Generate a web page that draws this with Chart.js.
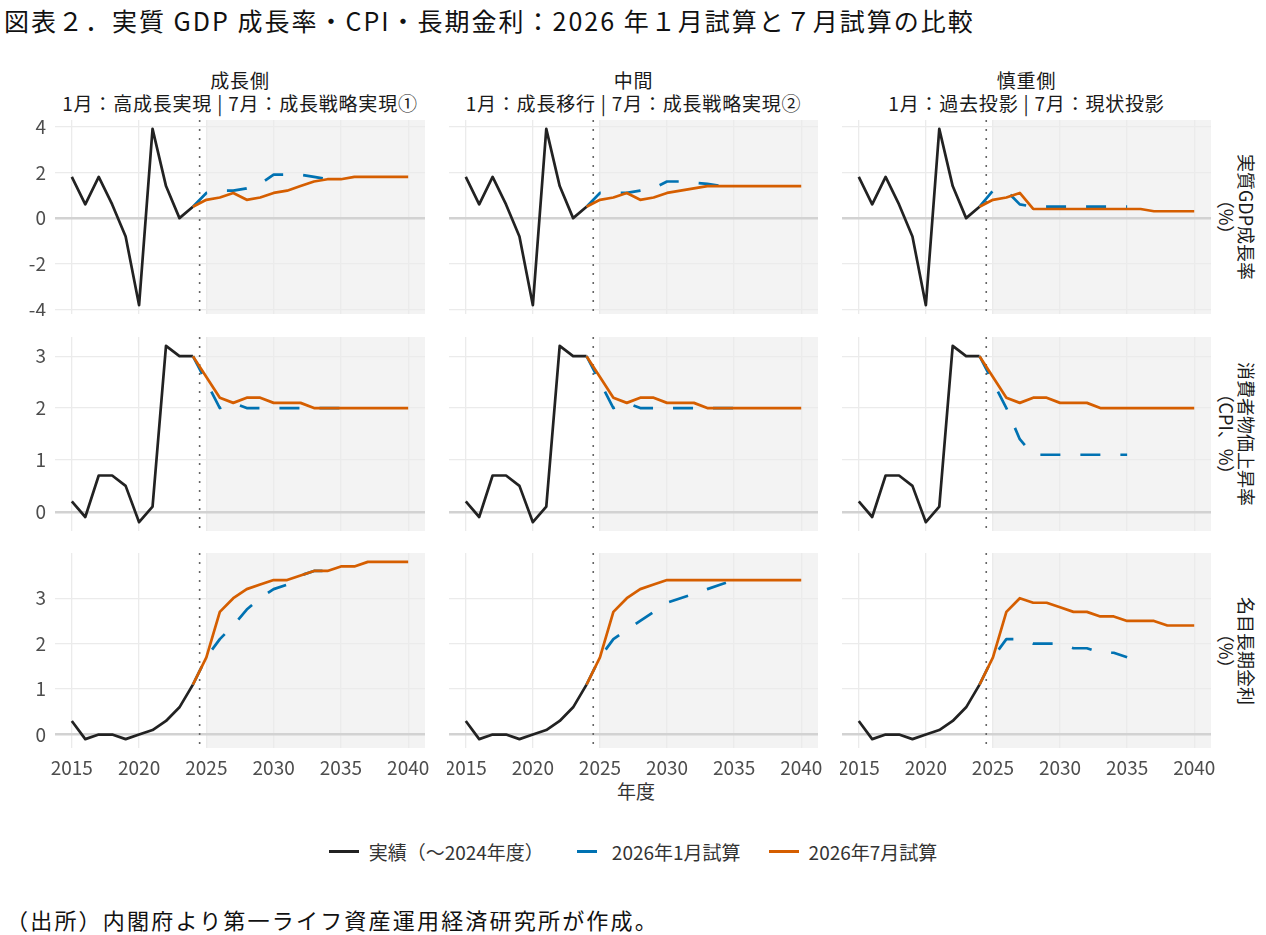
<!DOCTYPE html>
<html lang="ja">

<head>
  <meta charset="UTF-8">
  <meta name="viewport" content="width=device-width, initial-scale=1.0">
  <script src="https://cdn.jsdelivr.net/npm/chart.js@4.4.1/dist/chart.umd.min.js"></script>
  <title>図表２．実質GDP成長率・CPI・長期金利</title>
  <style>
    body { margin: 0; background: #fff; font-family: 'Noto Sans CJK JP', sans-serif; }
    #page { position: relative; width: 1266px; height: 935px; overflow: hidden; background: #fff; }
    #page canvas { position: absolute; }
    .txt { position: absolute; white-space: nowrap; }
    #title { left: 4px; top: 2px; font-size: 25px; letter-spacing: 2px; color: #111; }
    .strip { text-align: center; font-size: 19px; letter-spacing: 0.8px; line-height: 23px; color: #1a1a1a; }
    .rowlab { font-size: 18px; line-height: 20px; text-align: center; color: #1a1a1a;
      transform: translate(-50%, -50%) rotate(90deg); }
    #xtitle { left: 636px; top: 790px; transform: translate(-50%, -50%); font-size: 19px; color: #333; }
    #legend { left: 0; width: 1266px; top: 838px; display: flex; justify-content: center; align-items: center;
      font-size: 19px; color: #333; }
    #legend .key { display: inline-block; width: 30px; height: 0; margin: 0 10px 0 0; }
    #legend .item { margin: 0 14px; display: flex; align-items: center; }
    #note { left: 6px; top: 903px; font-size: 22px; letter-spacing: 2.2px; color: #111; }
  </style>
</head>

<body>
  <div id="page">
    <div id="title" class="txt">図表２．実質 GDP 成長率・CPI・長期金利：2026 年１月試算と７月試算の比較</div>
    <div id="xtitle" class="txt">年度</div>
    <div id="legend" class="txt">
      <span class="item"><span class="key" style="border-top:3px solid #222"></span>実績（～2024年度）</span>
      <span class="item"><span class="key" style="border-top:3px solid #0072B2;width:20px;margin-left:5px;margin-right:15px"></span>2026年1月試算</span>
      <span class="item"><span class="key" style="border-top:3px solid #D55E00"></span>2026年7月試算</span>
    </div>
    <div id="note" class="txt">（出所）内閣府より第一ライフ資産運用経済研究所が作成。</div>
  </div>

  <script>
    // 年度
    var actualYears = [2015, 2016, 2017, 2018, 2019, 2020, 2021, 2022, 2023, 2024];
    var janYears = [2024, 2025, 2026, 2027, 2028, 2029, 2030, 2031, 2032, 2033, 2034, 2035];
    var julYears = [2024, 2025, 2026, 2027, 2028, 2029, 2030, 2031, 2032, 2033, 2034, 2035, 2036, 2037, 2038, 2039, 2040];

    // 実績
    var gdpActual = [1.8, 0.6, 1.8, 0.6, -0.8, -3.8, 3.9, 1.4, 0.0, 0.5];
    var cpiActual = [0.2, -0.1, 0.7, 0.7, 0.5, -0.2, 0.1, 3.2, 3.0, 3.0];
    var rateActual = [0.3, -0.1, 0.0, 0.0, -0.1, 0.0, 0.1, 0.3, 0.6, 1.1];

    // 2026年1月試算（成長側・中間・慎重側）
    var gdpJanGrowth = [0.5, 1.1, 1.2, 1.2, 1.3, 1.5, 1.9, 1.9, 1.9, 1.8, 1.7, 1.7];
    var gdpJanMiddle = [0.5, 1.1, 1.1, 1.1, 1.2, 1.3, 1.6, 1.6, 1.55, 1.5, 1.4, 1.4];
    var gdpJanCautious = [0.5, 1.2, 1.2, 0.6, 0.5, 0.5, 0.5, 0.5, 0.5, 0.5, 0.5, 0.5];
    var cpiJanGrowth = [3.0, 2.5, 2.0, 2.1, 2.0, 2.0, 2.0, 2.0, 2.0, 2.0, 2.0, 2.0];
    var cpiJanMiddle = [3.0, 2.5, 2.0, 2.1, 2.0, 2.0, 2.0, 2.0, 2.0, 2.0, 2.0, 2.0];
    var cpiJanCautious = [3.0, 2.5, 2.0, 1.4, 1.1, 1.1, 1.1, 1.1, 1.1, 1.1, 1.1, 1.1];
    var rateJanGrowth = [1.1, 1.7, 2.1, 2.4, 2.75, 3.0, 3.2, 3.3, 3.5, 3.6, 3.6, 3.7];
    var rateJanMiddle = [1.1, 1.7, 2.1, 2.3, 2.5, 2.7, 2.9, 3.0, 3.1, 3.2, 3.3, 3.4];
    var rateJanCautious = [1.1, 1.7, 2.1, 2.1, 2.0, 2.0, 2.0, 1.9, 1.9, 1.8, 1.8, 1.7];

    // 2026年7月試算（成長側・中間・慎重側）
    var gdpJulGrowth = [0.5, 0.8, 0.9, 1.1, 0.8, 0.9, 1.1, 1.2, 1.4, 1.6, 1.7, 1.7, 1.8, 1.8, 1.8, 1.8, 1.8];
    var gdpJulMiddle = [0.5, 0.8, 0.9, 1.1, 0.8, 0.9, 1.1, 1.2, 1.3, 1.4, 1.4, 1.4, 1.4, 1.4, 1.4, 1.4, 1.4];
    var gdpJulCautious = [0.5, 0.8, 0.9, 1.1, 0.4, 0.4, 0.4, 0.4, 0.4, 0.4, 0.4, 0.4, 0.4, 0.3, 0.3, 0.3, 0.3];
    var cpiJulGrowth = [3.0, 2.6, 2.2, 2.1, 2.2, 2.2, 2.1, 2.1, 2.1, 2.0, 2.0, 2.0, 2.0, 2.0, 2.0, 2.0, 2.0];
    var cpiJulMiddle = [3.0, 2.6, 2.2, 2.1, 2.2, 2.2, 2.1, 2.1, 2.1, 2.0, 2.0, 2.0, 2.0, 2.0, 2.0, 2.0, 2.0];
    var cpiJulCautious = [3.0, 2.6, 2.2, 2.1, 2.2, 2.2, 2.1, 2.1, 2.1, 2.0, 2.0, 2.0, 2.0, 2.0, 2.0, 2.0, 2.0];
    var rateJulGrowth = [1.1, 1.7, 2.7, 3.0, 3.2, 3.3, 3.4, 3.4, 3.5, 3.6, 3.6, 3.7, 3.7, 3.8, 3.8, 3.8, 3.8];
    var rateJulMiddle = [1.1, 1.7, 2.7, 3.0, 3.2, 3.3, 3.4, 3.4, 3.4, 3.4, 3.4, 3.4, 3.4, 3.4, 3.4, 3.4, 3.4];
    var rateJulCautious = [1.1, 1.7, 2.7, 3.0, 2.9, 2.9, 2.8, 2.7, 2.7, 2.6, 2.6, 2.5, 2.5, 2.5, 2.4, 2.4, 2.4];

    // 目盛り
    var xTicks = [2015, 2020, 2025, 2030, 2035, 2040];
    var gdpTicks = [-4, -2, 0, 2, 4];
    var cpiTicks = [0, 1, 2, 3];
    var rateTicks = [0, 1, 2, 3];

    // 見出し
    var colTitles = ['成長側', '中間', '慎重側'];
    var colSubtitles = ['1月：高成長実現 | 7月：成長戦略実現①', '1月：成長移行 | 7月：成長戦略実現②', '1月：過去投影 | 7月：現状投影'];
    var rowTitles = [['実質GDP成長率', '（%）'], ['消費者物価上昇率', '（CPI、%）'], ['名目長期金利', '（%）']];

    var actualRows = [gdpActual, cpiActual, rateActual];
    var janRows = [[gdpJanGrowth, gdpJanMiddle, gdpJanCautious], [cpiJanGrowth, cpiJanMiddle, cpiJanCautious], [rateJanGrowth, rateJanMiddle, rateJanCautious]];
    var julRows = [[gdpJulGrowth, gdpJulMiddle, gdpJulCautious], [cpiJulGrowth, cpiJulMiddle, cpiJulCautious], [rateJulGrowth, rateJulMiddle, rateJulCautious]];
    var tickRows = [gdpTicks, cpiTicks, rateTicks];
    var yLimits = [[-4.185, 4.285], [-0.37, 3.37], [-0.295, 3.995]];

    // パネル位置
    var colLeft = [55, 449, 842], colRight = [425, 818, 1211];
    var rowTop = [120, 337, 553], rowBottom = [314, 531, 748];

    Chart.defaults.font.family = "'Noto Sans CJK JP', sans-serif";
    Chart.defaults.font.size = 19;
    Chart.defaults.color = '#4d4d4d';

    var page = document.getElementById('page');

    function pts(xs, ys) {
      return xs.map(function (x, i) { return { x: x, y: ys[i] }; });
    }

    // 試算期間の網掛けと2024年度の点線
    var shadePlugin = {
      id: 'shade',
      beforeDraw: function (chart) {
        var ctx = chart.ctx, a = chart.chartArea, x0 = chart.scales.x.getPixelForValue(2025);
        ctx.save();
        ctx.fillStyle = '#f3f3f3';
        ctx.fillRect(x0, a.top, a.right - x0, a.bottom - a.top);
        ctx.restore();
      },
      beforeDatasetsDraw: function (chart) {
        var ctx = chart.ctx, a = chart.chartArea, xl = chart.scales.x.getPixelForValue(2024.5);
        ctx.save();
        ctx.strokeStyle = '#666';
        ctx.lineWidth = 1.6;
        ctx.setLineDash([2, 7]);
        ctx.beginPath();
        ctx.moveTo(xl, a.top);
        ctx.lineTo(xl, a.bottom);
        ctx.stroke();
        ctx.restore();
      }
    };

    function newChart(row, col) {
      var yw = col === 0 ? 50 : 0;
      var xh = row === 2 ? 34 : 0;
      var pad = { left: 2, right: 18, top: 12, bottom: 2 };
      var canvas = document.createElement('canvas');
      canvas.width = colRight[col] - colLeft[col] + yw + pad.left + pad.right;
      canvas.height = rowBottom[row] - rowTop[row] + xh + pad.top + pad.bottom;
      canvas.style.left = (colLeft[col] - yw - pad.left) + 'px';
      canvas.style.top = (rowTop[row] - pad.top) + 'px';
      page.appendChild(canvas);

      return new Chart(canvas, {
        type: 'line',
        data: {
          datasets: [
            {
              label: '2026年7月試算',
              data: pts(julYears, julRows[row][col]),
              borderColor: '#D55E00',
              order: 0
            },
            {
              label: '2026年1月試算',
              data: pts(janYears, janRows[row][col]),
              borderColor: '#0072B2',
              borderDash: [20, 20],
              order: 1
            },
            {
              label: '実績（～2024年度）',
              data: pts(actualYears, actualRows[row]),
              borderColor: '#222222',
              order: 2
            }
          ]
        },
        options: {
          responsive: false,
          animation: false,
          layout: { padding: pad },
          elements: {
            line: { borderWidth: 2.7, tension: 0, borderJoinStyle: 'round', fill: false },
            point: { radius: 0, hoverRadius: 0 }
          },
          plugins: { legend: { display: false }, tooltip: { enabled: false } },
          scales: {
            x: {
              type: 'linear',
              min: 2013.75,
              max: 2041.25,
              afterBuildTicks: function (s) { s.ticks = xTicks.map(function (v) { return { value: v }; }); },
              afterFit: function (s) { s.height = xh; s.paddingLeft = 0; s.paddingRight = 0; },
              border: { display: false },
              grid: { color: '#ebebeb', lineWidth: 1.3, drawTicks: false },
              ticks: {
                display: row === 2, padding: 8, maxRotation: 0, autoSkip: false,
                callback: function (v) { return String(v); }
              }
            },
            y: {
              type: 'linear',
              min: yLimits[row][0],
              max: yLimits[row][1],
              afterBuildTicks: function (s) { s.ticks = tickRows[row].map(function (v) { return { value: v }; }); },
              afterFit: function (s) { s.width = yw; s.paddingTop = 0; s.paddingBottom = 0; },
              border: { display: false },
              grid: {
                drawTicks: false,
                color: function (c) { return c.tick && c.tick.value === 0 ? '#d2d2d2' : '#ebebeb'; },
                lineWidth: function (c) { return c.tick && c.tick.value === 0 ? 2.6 : 1.3; }
              },
              ticks: {
                display: col === 0, padding: 9,
                callback: function (v) { return String(v); }
              }
            }
          }
        },
        plugins: [shadePlugin]
      });
    }

    for (var c = 0; c < 3; c++) {
      var s = document.createElement('div');
      s.className = 'txt strip';
      s.style.left = ((colLeft[c] + colRight[c]) / 2) + 'px';
      s.style.top = '68px';
      s.style.transform = 'translateX(-50%)';
      s.innerHTML = colTitles[c] + '<br>' + colSubtitles[c];
      page.appendChild(s);
    }

    for (var r = 0; r < 3; r++) {
      var l = document.createElement('div');
      l.className = 'txt rowlab';
      l.style.left = '1237px';
      l.style.top = ((rowTop[r] + rowBottom[r]) / 2) + 'px';
      l.innerHTML = rowTitles[r][0] + '<br>' + rowTitles[r][1];
      page.appendChild(l);
      for (var c2 = 0; c2 < 3; c2++) {
        newChart(r, c2);
      }
    }
  </script>
</body>

</html>
